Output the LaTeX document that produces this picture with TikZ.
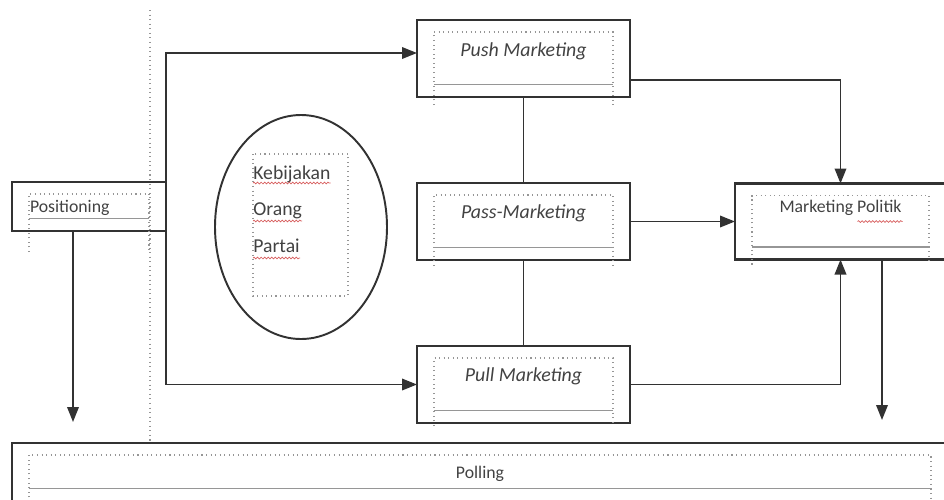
\documentclass[tikz,border=0pt]{standalone}
\usepackage{fontspec}
\setmainfont{Carlito}
\usepackage{xcolor}
\usepackage{tikz}
\usetikzlibrary{positioning,calc,arrows.meta,shapes.geometric,decorations.pathmorphing}
\definecolor{inkgrey}{RGB}{50,50,50}
\definecolor{textgrey}{RGB}{66,66,66}
\definecolor{framegrey}{RGB}{150,150,150}
\definecolor{spellred}{RGB}{215,95,95}

% dotted text-box frame inside a box: node name, how far the sides run below it
\newcommand{\wordframe}[2]{%
  \draw[framedot] ($(#1.south west)+(0.34,-#2)$) -- ($(#1.north west)+(0.34,-0.24)$)
    -- ($(#1.north east)+(-0.34,-0.24)$) -- ($(#1.south east)+(-0.34,-#2)$);
  \draw[framerule] ($(#1.south west)+(0.34,0.25)$) -- ($(#1.south east)+(-0.34,0.25)$);
}

\begin{document}
\begin{tikzpicture}[node distance=1.72cm, every node/.style={font=\fontsize{10.1}{12}\selectfont, text=textgrey}]
  \tikzstyle{box}=[rectangle, draw=inkgrey, line width=1.5pt, outer sep=0pt, inner sep=0pt, minimum width=4.26cm, minimum height=1.54cm, text height=0.3cm]
  \tikzstyle{channel}=[box, font=\fontsize{11.3}{13}\selectfont\itshape]
  \tikzstyle{ovaltext}=[inner sep=0pt, anchor=base west, font=\fontsize{11.2}{13}\selectfont]
  \tikzstyle{framedot}=[draw=framegrey, line width=0.6pt, dotted]
  \tikzstyle{framerule}=[draw=framegrey, line width=1.1pt]
  \tikzstyle{link}=[draw=inkgrey, line width=1.1pt]
  \tikzstyle{arrow}=[link, -{Triangle[length=3mm, width=2.3mm]}]
  \tikzstyle{squiggle}=[draw=spellred, line width=0.4pt, decorate, decoration={snake, amplitude=0.5pt, segment length=2pt}]
  \useasboundingbox (0,0) rectangle (18.88,-9.98);

  % the three channels and the goal
  \node[channel, text depth=0.4cm] (push) at (10.47,-1.17) {Push Marketing};
  \node[channel, text depth=0.42cm, below=of push] (pass) {Pass-Marketing};
  \node[channel, text depth=0.44cm, below=of pass] (pull) {Pull Marketing};
  \node[box, minimum width=4.22cm, minimum height=1.52cm, text depth=0.66cm, right=2.1cm of pass] (mp) {Marketing Politik};
  \node[box, minimum width=3.08cm, minimum height=0.98cm, text height=0.5cm, text depth=0.28cm, text width=2.36cm, align=left] (positioning) at (1.78,-4.13) {Positioning};
  \node[box, minimum width=18.72cm, minimum height=1.16cm, text height=0.5cm, text depth=0.26cm] (polling) at (9.6,-9.44) {Polling};

  % the oval
  \node[ellipse, draw=inkgrey, line width=1.1pt, minimum width=3.44cm, minimum height=4.48cm] (groups) at (6.02,-4.54) {};
  \node[ovaltext] (kebijakan) at (5.06,-3.58) {Kebijakan};
  \node[ovaltext] (orang) at ([yshift=-0.72cm]kebijakan.base west) {Orang};
  \node[ovaltext] (partai) at ([yshift=-0.74cm]orang.base west) {Partai};
  \draw[framedot] ($(groups.center)+(-0.96,1.46)$) rectangle ($(groups.center)+(0.94,-1.38)$);

  \wordframe{push}{0.16}
  \wordframe{pass}{0.12}
  \wordframe{pull}{0.06}
  \wordframe{mp}{0.1}
  \wordframe{positioning}{0.42}
  \wordframe{polling}{0.2}

  \coordinate (gridtop) at (3.0,-0.2);
  \draw[framedot] (gridtop) -- (gridtop |- polling.north);

  % connectors
  \draw[arrow] (positioning.east) |- ([yshift=0.11cm]push.west);
  \draw[arrow] (positioning.east) |- (pull.west);
  \draw[link] (push) -- (pass);
  \draw[link] (pass) -- (pull);
  \draw[arrow] ([yshift=-0.43cm]push.east) -| (mp.north);
  \draw[arrow] (pass.east) -- (mp.west);
  \draw[arrow] (pull.east) -| (mp.south);
  \coordinate (posdrop) at ($(polling.north -| positioning.south)+(-0.32,0.42)$);
  \draw[arrow] (posdrop |- positioning.south) -- (posdrop);
  \coordinate (mpdrop) at ($(polling.north -| mp.south)+(0.83,0.46)$);
  \draw[arrow] (mpdrop |- mp.south) -- (mpdrop);

  % spelling marks
  \draw[squiggle] ([yshift=-0.08cm]kebijakan.base west) -- ([yshift=-0.08cm]kebijakan.base east);
  \draw[squiggle] ([yshift=-0.12cm]orang.base west) -- ([yshift=-0.12cm]orang.base east);
  \draw[squiggle] ([yshift=-0.12cm]partai.base west) -- ([yshift=-0.12cm]partai.base east);
  \draw[squiggle] ($(mp.center)+(0.34,0)$) -- ($(mp.center)+(1.24,0)$);
\end{tikzpicture}
\end{document}
